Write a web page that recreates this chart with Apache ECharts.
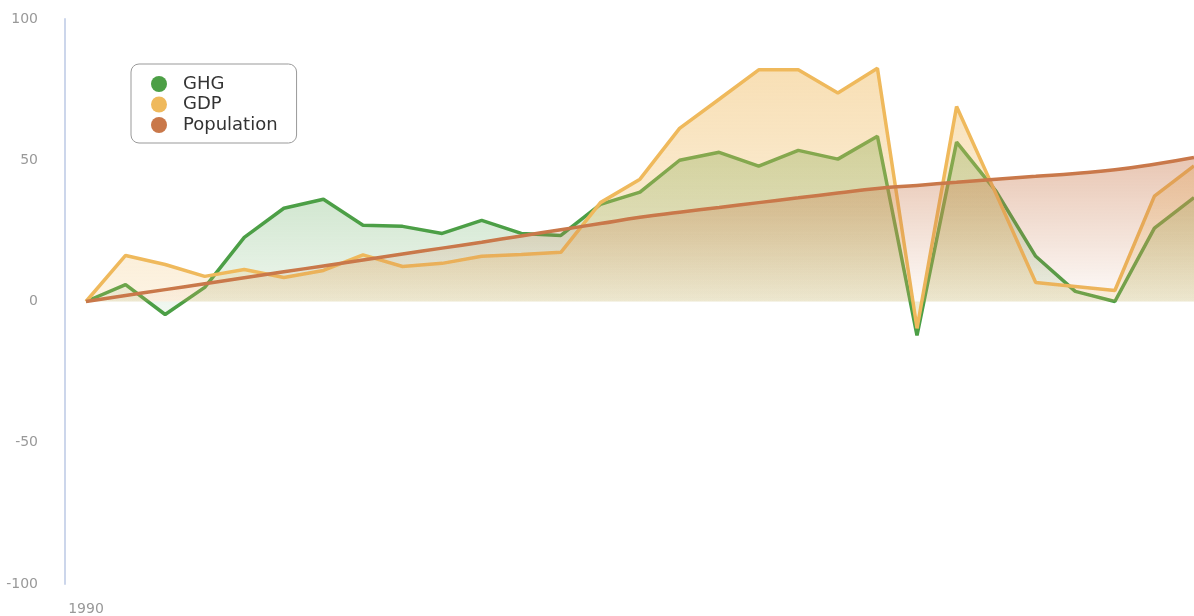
<!DOCTYPE html>
<html>
<head>
<meta charset="utf-8">
<script src="https://cdn.jsdelivr.net/npm/echarts@6/dist/echarts.min.js"></script>
<style>
html,body{margin:0;padding:0;background:#fff;}
#chart{width:1194px;height:616px;}
</style>
</head>
<body>
<div id="chart"></div>
<script>
var years = ['1990','1991','1992','1993','1994','1995','1996','1997','1998','1999','2000','2001','2002','2003','2004','2005','2006','2007','2008','2009','2010','2011','2012','2013','2014','2015','2016','2017','2018'];
var ghg = [0, 6, -4.6, 5, 22.7, 33, 36.2, 27, 26.6, 24.1, 28.7, 24.1, 23.4, 34.4, 38.7, 50, 52.8, 47.9, 53.5, 50.4, 58.5, -12, 56.4, 39, 16, 3.6, 0, 26, 36.8];
var gdp = [0, 16.3, 13.1, 8.9, 11.3, 8.5, 11, 16.5, 12.4, 13.5, 16, 16.6, 17.4, 35, 43.3, 61.3, 71.6, 82, 82, 73.8, 82.6, -9.5, 69, 38, 6.7, 5.3, 3.9, 37.3, 48];
var population = [0, 2.1, 4.2, 6.3, 8.4, 10.5, 12.6, 14.7, 16.8, 18.9, 21, 23.2, 25.4, 27.6, 29.8, 31.6, 33.3, 35, 36.7, 38.4, 40, 41.1, 42.2, 43.3, 44.3, 45.3, 46.6, 48.6, 51];
var seriesNames = ['GHG', 'GDP', 'Population'];
var yTicks = {min: -100, max: 100, interval: 50};

var colors = ['#4c9f46', '#efb95c', '#c9784a'];
function grad(rgb, a0, a1) {
  return new echarts.graphic.LinearGradient(0, 0, 0, 1, [
    {offset: 0, color: 'rgba(' + rgb + ',' + a0 + ')'},
    {offset: 1, color: 'rgba(' + rgb + ',' + a1 + ')'}
  ]);
}
var FONT = 'DejaVu Sans';
var chart = echarts.init(document.getElementById('chart'), null, {renderer: 'canvas'});
chart.setOption({
  animation: false,
  color: colors,
  grid: {left: 86, right: 0, top: 19, bottom: 32, containLabel: false},
  legend: {
    orient: 'vertical',
    left: 131, top: 64,
    data: seriesNames,
    icon: 'circle',
    itemWidth: 16, itemHeight: 16, itemGap: 2.5,
    padding: [11, 19, 9, 20],
    borderColor: '#999', borderWidth: 1, borderRadius: 8,
    textStyle: {fontFamily: FONT, fontSize: 18, lineHeight: 16, color: '#333', padding: [0, 0, 0, 11]}
  },
  xAxis: {
    type: 'category',
    data: years,
    boundaryGap: false,
    axisLine: {show: false},
    axisTick: {show: false},
    splitLine: {show: false},
    axisLabel: {
      interval: function (i) { return i === 0; },
      margin: 18,
      color: '#999', fontFamily: FONT, fontSize: 14
    }
  },
  yAxis: {
    type: 'value',
    offset: 21,
    min: yTicks.min, max: yTicks.max, interval: yTicks.interval,
    axisLine: {show: true, lineStyle: {color: '#ccd6eb', width: 2}},
    axisTick: {show: false},
    splitLine: {show: false},
    axisLabel: {margin: 27, color: '#999', fontFamily: FONT, fontSize: 14}
  },
  series: [
    {
      name: seriesNames[0], type: 'line', data: ghg, showSymbol: false, z: 2,
      lineStyle: {width: 3.5, color: colors[0]},
      itemStyle: {color: colors[0]},
      areaStyle: {color: grad('76,159,70', 0.5, 0.06)}
    },
    {
      name: seriesNames[1], type: 'line', data: gdp, showSymbol: false, z: 3,
      lineStyle: {width: 3.5, color: colors[1]},
      itemStyle: {color: colors[1]},
      areaStyle: {color: grad('239,185,92', 0.65, 0.2)}
    },
    {
      name: seriesNames[2], type: 'line', data: population, showSymbol: false, smooth: true, z: 4,
      lineStyle: {width: 3.5, color: colors[2]},
      itemStyle: {color: colors[2]},
      areaStyle: {color: grad('201,120,74', 0.6, 0.05)}
    }
  ]
});
</script>
</body>
</html>
